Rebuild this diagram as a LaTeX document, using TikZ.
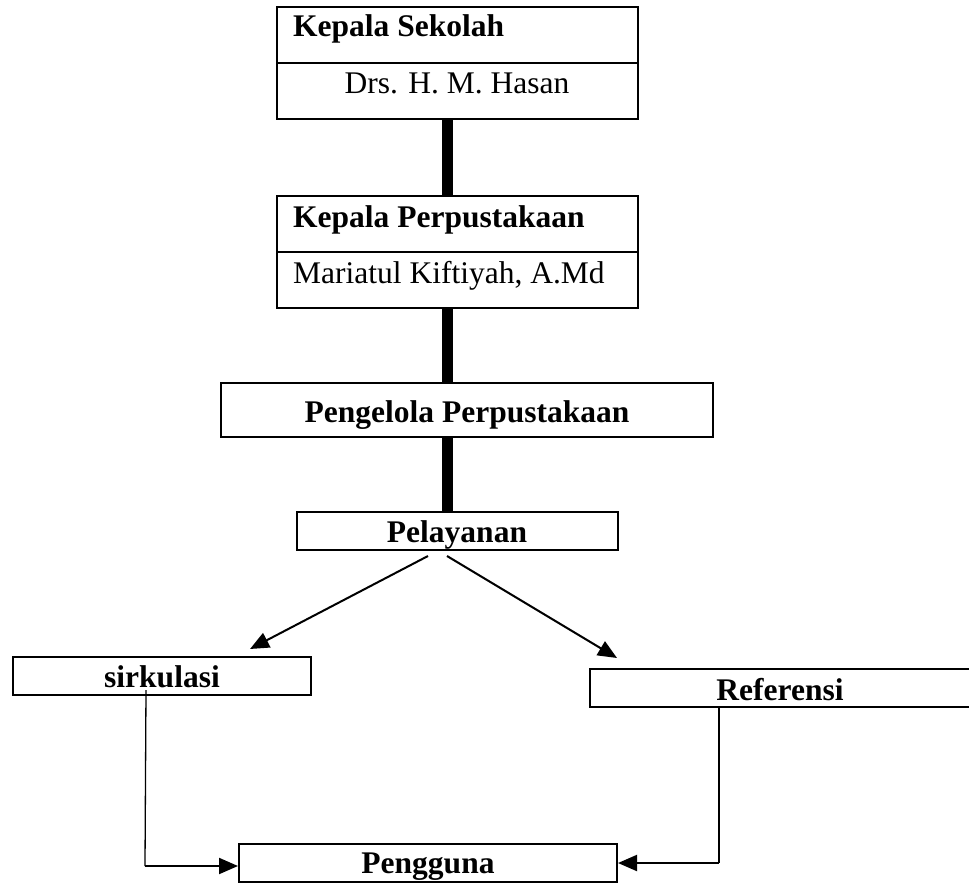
\documentclass[tikz,border=0pt]{standalone}
\usepackage{fontspec}
\setmainfont{Liberation Serif}
\usetikzlibrary{arrows.meta,calc}
\begin{document}
\begin{tikzpicture}[x=1pt,y=-1pt,
  box/.style={draw,line width=2pt,inner sep=0pt,rectangle},
  txt/.style={inner sep=0pt,font=\fontsize{31.5pt}{36pt}\selectfont},
  btxt/.style={txt,font=\fontsize{31.5pt}{36pt}\selectfont\bfseries},
  spine/.style={line width=11pt},
  arr/.style={line width=2pt,-{Triangle[length=19pt,width=16pt]}},
  vline/.style={line width=1.3pt}]
\useasboundingbox (0,0) rectangle (969,883);
% boxes
\node[box,minimum width=361pt,minimum height=56pt] (ks1) at (457.5,35) {};
\node[box,minimum width=361pt,minimum height=56pt] (ks2) at (457.5,91) {};
\node[box,minimum width=361pt,minimum height=56pt] (kp1) at (457.5,224) {};
\node[box,minimum width=361pt,minimum height=56pt] (kp2) at (457.5,280) {};
\node[box,minimum width=492pt,minimum height=54pt] (pg) at (467,410) {};
\node[box,minimum width=321pt,minimum height=38pt] (pl) at (457.5,531) {};
\node[box,minimum width=298pt,minimum height=38pt] (sk) at (162,676) {};
\node[box,minimum width=384pt,minimum height=38pt] (rf) at (782,688) {};
\node[box,minimum width=378pt,minimum height=38pt] (pn) at (428,863) {};
% texts
\node[btxt,anchor=base west] (tks1) at (293,37) {Kepala Sekolah};
\node[txt,anchor=base] (tks2) at (457,93) {Drs. H. M. Hasan};
\node[btxt,anchor=base west] (tkp1) at (293,227) {Kepala Perpustakaan};
\node[txt,anchor=base west] (tkp2) at (293,283) {Mariatul Kiftiyah, A.Md};
\node[btxt,anchor=base] (tpg) at (467,422) {Pengelola Perpustakaan};
\node[btxt,anchor=base] (tpl) at (457,542) {Pelayanan};
\node[btxt,anchor=base] (tsk) at (162,687) {sirkulasi};
\node[btxt,anchor=base] (trf) at (780,700) {Referensi};
\node[btxt,anchor=base] (tpn) at (428,873) {Pengguna};
% thick spine
\coordinate (sp) at (447.5,0);
\draw[spine] (ks2.south -| sp) -- (kp1.north -| sp);
\draw[spine] (kp2.south -| sp) -- (pg.north -| sp);
\draw[spine] (pg.south -| sp) -- (pl.north -| sp);
% diagonal arrows
\draw[arr] ($(pl.south)+(-29.5,5)$) -- ($(sk.north)+(88,-7)$);
\draw[arr] ($(pl.south)+(-10.5,5)$) -- ($(rf.north)+(-165,-10)$);
% bottom connectors
\coordinate (c1) at ($(pn.west)+(-93,3)$);
\coordinate (c2) at ($(pn.east)+(101,0)$);
\draw[vline] ($(sk.south)+(-16,-6)$) -- (c1);
\draw[arr] (c1) -- ($(pn.west)+(0,3)$);
\draw[vline] (rf.south -| c2) -- (c2);
\draw[arr] (c2) -- (pn.east);
\end{tikzpicture}
\end{document}
